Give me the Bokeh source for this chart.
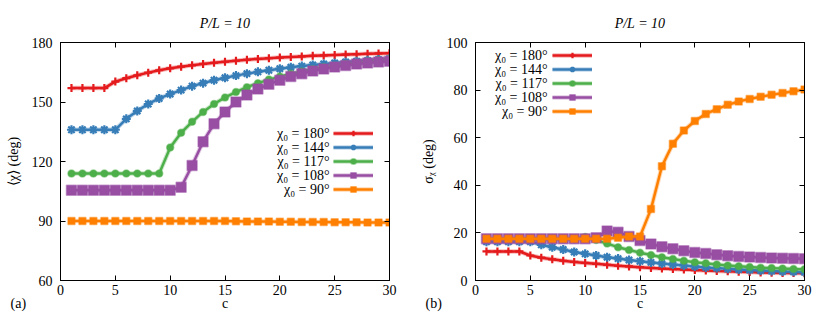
from bokeh.plotting import figure
from bokeh.layouts import row
from bokeh.models import (LinearAxis, FixedTicker, Legend, LegendItem, Label,
                          CustomJSTickFormatter, Range1d)
from bokeh.embed import file_html
from bokeh.resources import INLINE

# ---------------- data ----------------
c = list(range(1, 31))
series_labels = ["χ₀ = 180°", "χ₀ = 144°", "χ₀ = 117°", "χ₀ = 108°", "χ₀ = 90°"]

mean_180 = [157, 157, 157, 157, 160.3, 162, 163.5, 164.8, 166, 167, 167.8, 168.5, 169.2, 169.8, 170.3,
            170.8, 171.3, 171.7, 172.1, 172.4, 172.7, 173, 173.3, 173.5, 173.7, 173.9, 174.1, 174.3, 174.5, 174.6]
mean_144 = [136, 136, 136, 136, 136, 141.5, 145.5, 149, 151.8, 154, 156, 158, 159.5, 161, 162.2,
            163.3, 164.3, 165.2, 166, 166.8, 167.5, 168.1, 168.7, 169.2, 169.7, 170.2, 170.6, 171, 171.4, 171.8]
mean_117 = [114, 114, 114, 114, 114, 114, 114, 114, 114, 127, 134.5, 140, 145, 149, 152.3,
            155, 157.5, 159.5, 161.3, 162.8, 164.2, 165.4, 166.5, 167.5, 168.3, 169.1, 169.8, 170.4, 171, 171.5]
mean_108 = [105.5, 105.5, 105.5, 105.5, 105.5, 105.5, 105.5, 105.5, 105.5, 105.5, 107, 118, 130, 139, 145,
            150, 153.5, 156.5, 159, 161, 162.8, 164.3, 165.6, 166.7, 167.6, 168.4, 169.1, 169.7, 170.2, 170.6]
mean_90 = [90, 90, 90, 90, 90, 90, 90, 90, 90, 90, 90, 90, 90, 90, 90,
           89.9, 89.8, 89.7, 89.7, 89.6, 89.6, 89.5, 89.5, 89.5, 89.4, 89.4, 89.4, 89.3, 89.3, 89.3]

std_180 = [12.2, 12.2, 12.2, 12.2, 10.5, 9.6, 8.9, 8.3, 7.8, 7.4, 7.0, 6.6, 6.2, 5.9, 5.6,
           5.3, 5.0, 4.8, 4.6, 4.4, 4.2, 4.0, 3.9, 3.7, 3.6, 3.4, 3.3, 3.2, 3.1, 3.0]
std_144 = [16.3, 16.3, 16.3, 16.3, 16.3, 15.0, 14.0, 13.0, 12.0, 11.2, 10.5, 9.8, 9.2, 8.6, 8.1,
           7.6, 7.1, 6.7, 6.3, 5.9, 5.5, 5.2, 4.9, 4.6, 4.4, 4.2, 4.0, 3.8, 3.7, 3.5]
std_117 = [17.3, 17.3, 17.3, 17.3, 17.3, 17.3, 17.3, 17.3, 17.3, 18.3, 17.0, 15.5, 14.0, 12.8, 11.7,
           10.7, 9.8, 9.0, 8.3, 7.7, 7.2, 6.7, 6.3, 6.0, 5.7, 5.4, 5.2, 5.0, 4.8, 4.7]
std_108 = [17.5, 17.5, 17.5, 17.5, 17.5, 17.5, 17.5, 17.5, 17.5, 17.5, 18.0, 20.8, 20.3, 18.5, 16.8,
           15.3, 14.2, 13.3, 12.5, 11.8, 11.3, 10.8, 10.4, 10.1, 9.9, 9.7, 9.5, 9.3, 9.2, 9.1]
std_90 = [17.5, 17.5, 17.5, 17.5, 17.5, 17.5, 17.5, 17.5, 17.5, 17.5, 17.5, 17.5, 18.0, 18.5, 18.5,
          30.0, 48.0, 57.5, 63.0, 67.0, 70.0, 72.0, 73.8, 75.2, 76.3, 77.2, 78.0, 78.8, 79.5, 80.2]

x_ticks = [0, 5, 10, 15, 20, 25, 30]
mean_ticks = [60, 90, 120, 150, 180]
std_ticks = [0, 20, 40, 60, 80, 100]

# ---------------- styles ----------------
colors = ["#e41a1c", "#377eb8", "#4daf4a", "#984ea3", "#ff7f00"]
markers = ["cross", "asterisk", "circle", "square", "square"]
msizes = [8, 9, 7, 10, 7]
FONT = "Liberation Serif"
W, H = 407, 312


def make_fig(series, yr, yticks, ylabel, panel, leg_glyph_loc, leg_text_x, leg_text_y,
             border_left, border_right):
    p = figure(width=W, height=H, x_range=Range1d(0, 30), y_range=Range1d(*yr),
               output_backend="svg", toolbar_location=None,
               min_border_left=border_left, min_border_right=border_right,
               min_border_top=42, min_border_bottom=30)
    p.background_fill_color = "white"
    p.border_fill_color = "white"
    p.outline_line_color = "black"
    p.outline_line_width = 1
    p.grid.visible = False

    p.title.text = "P/L = 10"
    p.title.align = "center"
    p.title.vertical_align = "top"
    p.title.standoff = 20
    p.title.text_font = FONT
    p.title.text_font_style = "italic"
    p.title.text_font_size = "14px"
    p.title.text_color = "black"

    for ax, ticks in ((p.xaxis[0], x_ticks), (p.yaxis[0], yticks)):
        ax.ticker = FixedTicker(ticks=ticks)
        ax.major_tick_in = 5
        ax.major_tick_out = 0
        ax.minor_tick_in = 0
        ax.minor_tick_out = 0
        ax.major_label_text_font = FONT
        ax.major_label_text_font_size = "14px"
        ax.major_label_text_color = "black"
        ax.axis_label_text_font = FONT
        ax.axis_label_text_font_size = "14px"
        ax.axis_label_text_font_style = "normal"
        ax.axis_label_text_color = "black"
        ax.axis_line_color = "black"
        ax.major_tick_line_color = "black"
    p.xaxis[0].major_label_standoff = 4
    p.yaxis[0].axis_label = ylabel
    p.yaxis[0].major_label_standoff = 8
    p.yaxis[0].axis_label_standoff = 8

    blank = CustomJSTickFormatter(code="return ''")
    top = LinearAxis(ticker=FixedTicker(ticks=x_ticks), formatter=blank,
                     major_tick_in=5, major_tick_out=0, minor_tick_in=0, minor_tick_out=0,
                     major_label_standoff=0)
    right = LinearAxis(ticker=FixedTicker(ticks=yticks), formatter=blank,
                       major_tick_in=5, major_tick_out=0, minor_tick_in=0, minor_tick_out=0,
                       major_label_standoff=0)
    p.add_layout(top, "above")
    p.add_layout(right, "right")

    items = []
    for ys, col, mk, ms in zip(series, colors, markers, msizes):
        halo = p.line(c, ys, line_color=col, line_width=4.5, line_alpha=0.3)
        ln = p.line(c, ys, line_color=col, line_width=2.5)
        if mk in ("cross", "asterisk"):
            sc = p.scatter(c, ys, marker=mk, size=ms, line_color=col, line_width=2.2)
        else:
            sc = p.scatter(c, ys, marker=mk, size=ms, fill_color=col, line_color=col,
                           line_alpha=0.5, line_width=1.5)
        items.append(LegendItem(label=" ", renderers=[halo, ln, sc]))

    # legend samples (gnuplot style: text left of the sample)
    leg = Legend(items=items, location=leg_glyph_loc, padding=0, spacing=0, margin=0,
                 glyph_width=40, glyph_height=14, label_height=14, label_width=1,
                 label_standoff=0, label_text_font_size="1px",
                 border_line_alpha=0, background_fill_alpha=0)
    p.add_layout(leg, "center")
    for i, lab in enumerate(series_labels):
        p.add_layout(Label(x=leg_text_x, y=leg_text_y - 14 * i, x_units="screen", y_units="screen",
                           text=lab, text_align="right", text_baseline="middle",
                           text_font=FONT, text_font_size="14px", text_color="black"))

    # panel tag "(a)" / "(b)" at the bottom left (own panel below the x axis)
    p.add_layout(Label(x=-50, y=2, x_units="screen", y_units="screen", text=panel,
                       text_baseline="bottom", text_font=FONT, text_font_size="14px",
                       text_color="black"), "below")
    # x-axis title "c" on the same row, centred under the frame
    frame_w = W - border_left - border_right
    p.add_layout(Label(x=-frame_w / 2.0, y=-30, x_units="screen", y_units="screen", text="c",
                       text_align="center", text_baseline="bottom", text_font=FONT,
                       text_font_size="14px", text_color="black"), "right")
    return p


p1 = make_fig([mean_180, mean_144, mean_117, mean_108, mean_90], (60, 180), mean_ticks,
              "⟨χ⟩ (deg)", "(a)", (273, 84), 269, 147, 60, 18)
p2 = make_fig([std_180, std_144, std_117, std_108, std_90], (0, 100), std_ticks,
              "σᵪ (deg)", "(b)", (77, 162), 72, 225, 68, 10)

layout = row(p1, p2)
open("out.html", "w").write(file_html(layout, INLINE))
